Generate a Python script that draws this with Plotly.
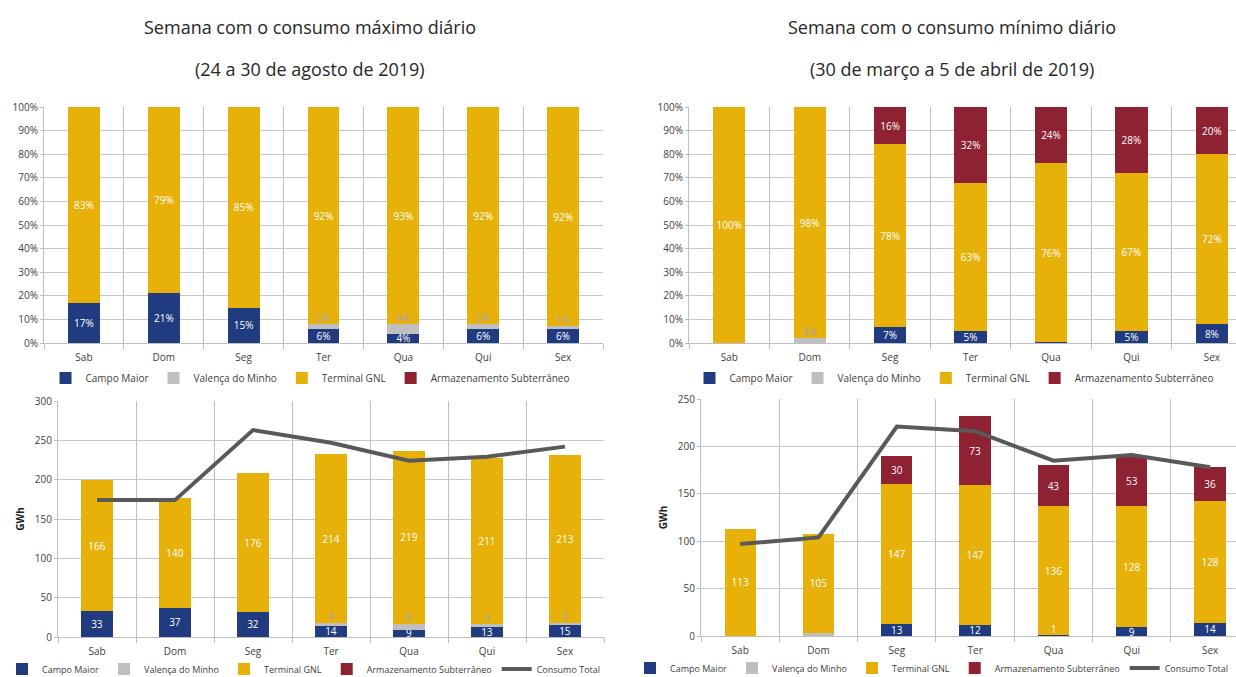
import plotly.graph_objects as go

# categories
dias = ["Sab", "Dom", "Seg", "Ter", "Qua", "Qui", "Sex"]

# semana com o consumo maximo (percentagens)
pct_max_campo = [17, 21, 15, 6, 4, 6, 6]
pct_max_valenca = [0, 0, 0, 2, 4, 2, 1]
pct_max_gnl = [83, 79, 85, 92, 93, 92, 92]
pct_max_armaz = [0, 0, 0, 0, 0, 0, 0]

# semana com o consumo minimo (percentagens)
pct_min_campo = [0, 0, 7, 5, 0.5, 5, 8]
pct_min_valenca = [0, 2, 0, 0, 0, 0, 0]
pct_min_gnl = [100, 98, 78, 63, 76, 67, 72]
pct_min_armaz = [0, 0, 16, 32, 24, 28, 20]

# semana com o consumo maximo (GWh)
gwh_max_campo = [33, 37, 32, 14, 9, 13, 15]
gwh_max_valenca = [0, 0, 0, 4, 8, 4, 3]
gwh_max_gnl = [166, 140, 176, 214, 219, 211, 213]
gwh_max_armaz = [0, 0, 0, 0, 0, 0, 0]
consumo_max = [174, 174, 263, 247, 224, 229, 242]

# semana com o consumo minimo (GWh)
gwh_min_campo = [0, 0, 13, 12, 1, 9, 14]
gwh_min_valenca = [0, 3, 0, 0, 0, 0, 0]
gwh_min_gnl = [113, 105, 147, 147, 136, 128, 128]
gwh_min_armaz = [0, 0, 30, 73, 43, 53, 36]
consumo_min = [97, 104, 221, 216, 185, 191, 178]

nomes = ["Campo Maior", "Valença do Minho", "Terminal GNL", "Armazenamento Subterrâneo"]
cores = ["#203B80", "#BFBFBF", "#E8B10A", "#8E2233"]
cores_texto = ["white", "#A6A6A6", "white", "white"]
FONT = "Open Sans"


def fmt(v, suffix):
    return f"{v:.0f}{suffix}" if v >= 1 else ""


def normalize(series):
    # 100% stacked: each day sums to 100
    totals = [sum(day) for day in zip(*series)]
    return [[v / t * 100 for v, t in zip(vals, totals)] for vals in series]


def add_stack(fig, series, xa, ya, legend, suffix, heights=None, hide_labels=()):
    heights = heights or series
    base = [0] * len(dias)
    for i, vals in enumerate(series):
        top = [b + h for b, h in zip(base, heights[i])]
        # thin segments get their label just above the segment (like Excel)
        above = [(i == 1) or (i == 0 and v < 2) for v in vals]
        show = i not in hide_labels
        inside = [fmt(v, suffix) if show and not a else "" for v, a in zip(vals, above)]
        outside = [fmt(v, suffix) if show and a else "" for v, a in zip(vals, above)]
        fig.add_trace(
            go.Bar(
                x=dias,
                y=heights[i],
                name=nomes[i],
                marker=dict(color=cores[i], line=dict(width=0)),
                text=inside,
                textposition="inside",
                insidetextanchor="middle",
                constraintext="none",
                textangle=0,
                textfont=dict(family=FONT, size=10, color=cores_texto[i]),
                xaxis=xa,
                yaxis=ya,
                legend=legend,
                width=0.4,
            )
        )
        if any(outside):
            fig.add_trace(
                go.Scatter(
                    x=dias, y=top, text=outside, mode="text",
                    textposition="top center", cliponaxis=False,
                    textfont=dict(family=FONT, size=10, color=cores_texto[i]),
                    xaxis=xa, yaxis=ya, showlegend=False, hoverinfo="skip",
                )
            )
        base = top


fig = go.Figure()

top_max = [pct_max_campo, pct_max_valenca, pct_max_gnl, pct_max_armaz]
top_min = [pct_min_campo, pct_min_valenca, pct_min_gnl, pct_min_armaz]
add_stack(fig, top_max, "x", "y", "legend", "%", heights=normalize(top_max))
add_stack(fig, top_min, "x2", "y2", "legend2", "%", heights=normalize(top_min))
add_stack(fig, [gwh_max_campo, gwh_max_valenca, gwh_max_gnl, gwh_max_armaz],
          "x3", "y3", "legend3", "")
add_stack(fig, [gwh_min_campo, gwh_min_valenca, gwh_min_gnl, gwh_min_armaz],
          "x4", "y4", "legend4", "", hide_labels=(1,))

# linha do consumo total
for cons, xa, ya, leg in [(consumo_max, "x3", "y3", "legend3"), (consumo_min, "x4", "y4", "legend4")]:
    fig.add_trace(
        go.Scatter(
            x=dias, y=cons, name="Consumo Total", mode="lines",
            line=dict(color="#595959", width=4),
            xaxis=xa, yaxis=ya, legend=leg,
        )
    )

W, H = 1236, 677

xcommon = dict(
    type="category", tickson="boundaries", showgrid=True, gridcolor="#BFBFBF",
    showline=True, linecolor="#BFBFBF", ticks="outside", ticklen=5, tickcolor="#BFBFBF",
    ticklabelstandoff=5,
    tickfont=dict(family=FONT, size=10, color="#404040"), fixedrange=True, automargin=False,
)
ycommon = dict(
    showgrid=True, gridcolor="#C8C8C8", showline=True, linecolor="#BFBFBF",
    ticks="outside", ticklen=3, tickcolor="#BFBFBF", zeroline=False,
    tickfont=dict(family=FONT, size=10, color="#404040"), fixedrange=True, automargin=False,
)
ytitle = dict(text="<b>GWh</b>", font=dict(family=FONT, size=10, color="#222"), standoff=8)

legcommon = dict(
    orientation="h", xanchor="center", yanchor="middle", itemwidth=30,
    font=dict(family=FONT, size=10, color="#404040"), bgcolor="rgba(0,0,0,0)",
    traceorder="normal", itemclick=False,
)
legfont_small = dict(family=FONT, size=9, color="#404040")

fig.update_layout(
    width=W, height=H,
    margin=dict(l=0, r=0, t=0, b=0, autoexpand=False),
    paper_bgcolor="white", plot_bgcolor="white",
    barmode="stack",
    showlegend=True,
    xaxis=dict(xcommon, domain=[44 / W, 603 / W], anchor="y", range=[-0.5, 6.5]),
    yaxis=dict(ycommon, domain=[334 / H, 570 / H], anchor="x", range=[0, 100],
               dtick=10, ticksuffix="%"),
    xaxis2=dict(xcommon, domain=[689 / W, 1.0], anchor="y2", range=[-0.5, 6.3]),
    yaxis2=dict(ycommon, domain=[334 / H, 570 / H], anchor="x2", range=[0, 100],
                dtick=10, ticksuffix="%"),
    xaxis3=dict(xcommon, domain=[58 / W, 604 / W], anchor="y3", range=[-0.5, 6.5]),
    yaxis3=dict(ycommon, domain=[40 / H, 276 / H], anchor="x3", range=[0, 300],
                dtick=50, title=ytitle),
    xaxis4=dict(xcommon, domain=[701 / W, 1.0], anchor="y4", range=[-0.5, 6.33]),
    yaxis4=dict(ycommon, domain=[41 / H, 278 / H], anchor="x4", range=[0, 250],
                dtick=50, title=ytitle),
    legend=dict(legcommon, x=310 / W, y=1 - 378 / H),
    legend2=dict(legcommon, x=954 / W, y=1 - 378 / H),
    legend3=dict(legcommon, x=304 / W, y=1 - 669 / H, font=legfont_small),
    legend4=dict(legcommon, x=932 / W, y=1 - 668 / H, font=legfont_small),
)

titulos = [
    ("Semana com o consumo máximo diário", 310, 27),
    ("(24 a 30 de agosto de 2019)", 310, 69),
    ("Semana com o consumo mínimo diário", 952, 27),
    ("(30 de março a 5 de abril de 2019)", 952, 69),
]
for txt, x, y in titulos:
    fig.add_annotation(
        text=txt, x=x / W, y=1 - y / H, xref="paper", yref="paper",
        showarrow=False, xanchor="center", yanchor="middle",
        font=dict(family=FONT, size=18, color="#262626"),
    )

fig.write_html("out.html", config={"displayModeBar": False},
               post_script="document.body.style.margin='0';")
